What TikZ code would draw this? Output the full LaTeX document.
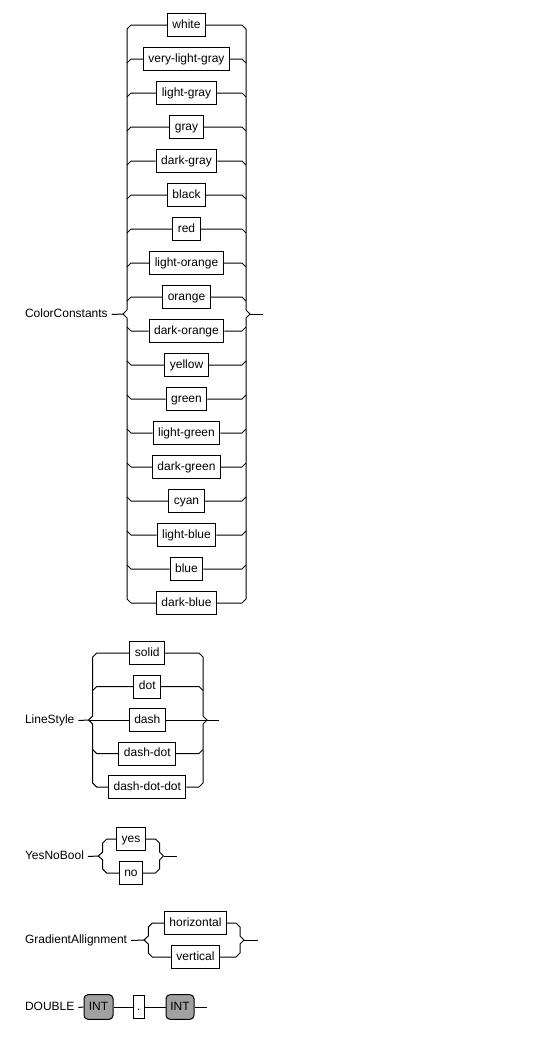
\documentclass[tikz,border=0pt]{standalone}
\usepackage{fontspec}
\setmainfont{Liberation Sans}
\begin{document}
\begin{tikzpicture}[x=0.75pt,y=-0.75pt,line width=0.75pt,line join=miter,
  txt/.style={font=\fontsize{9}{11}\selectfont, text height=6.6pt, text depth=1.9pt},
  term/.style={txt, draw, fill=white, inner xsep=3.75pt, inner ysep=0pt, minimum height=17.25pt},
  ruleref/.style={term, rounded corners=3pt, fill=black!37, minimum height=18.5pt},
  rulename/.style={txt, inner sep=0pt, outer xsep=3pt, anchor=west}]
\useasboundingbox (0,0) rectangle (560,1039);

% ---------------- ColorConstants ----------------
\node[rulename] (cc) at (21,314.5) {ColorConstants};
\coordinate (ccin) at (123,314);
\coordinate (ccout) at (250,314);
\coordinate (ccend) at (263,314);
\draw (cc.east) -- (ccin);
\draw (ccout) -- (ccend);
\foreach \name [count=\i from 0] in {white,very-light-gray,light-gray,gray,dark-gray,black,red,light-orange,orange,dark-orange,yellow,green,light-green,dark-green,cyan,light-blue,blue,dark-blue} {
  \pgfmathsetmacro{\yy}{25+34*\i}
  \node[term] (cc\i) at (186.5,\yy) {\name};
}
% outer branches carry the rails
\draw (cc0.west) -- (131,25) -- (127,29) -- (127,310) -- (ccin) -- (127,318) -- (127,599) -- (131,603) -- (cc17.west);
\draw (cc0.east) -- (242,25) -- (246,29) -- (246,310) -- (ccout) -- (246,318) -- (246,599) -- (242,603) -- (cc17.east);
% inner branches leave the rails
\foreach \i in {1,...,8} {
  \pgfmathsetmacro{\yy}{25+34*\i}
  \coordinate (ccl\i) at (127,\yy+4);
  \coordinate (ccr\i) at (246,\yy+4);
  \draw (ccl\i) -- (131,\yy) -- (cc\i.west);
  \draw (cc\i.east) -- (242,\yy) -- (ccr\i);
}
\foreach \i in {9,...,16} {
  \pgfmathsetmacro{\yy}{25+34*\i}
  \coordinate (ccl\i) at (127,\yy-4);
  \coordinate (ccr\i) at (246,\yy-4);
  \draw (ccl\i) -- (131,\yy) -- (cc\i.west);
  \draw (cc\i.east) -- (242,\yy) -- (ccr\i);
}

% ---------------- LineStyle ----------------
\node[rulename] (ls) at (21,720.5) {LineStyle};
\coordinate (lsin) at (88.5,720);
\coordinate (lsout) at (207,720);
\coordinate (lsend) at (219,720);
\draw (ls.east) -- (lsin);
\draw (lsout) -- (lsend);
\node[term] (ls0) at (147.3,653) {solid};
\node[term] (ls1) at (147.3,686.5) {dot};
\node[term] (ls2) at (147.3,720) {dash};
\node[term] (ls3) at (147.3,753.5) {dash-dot};
\node[term] (ls4) at (147.3,787) {dash-dot-dot};
\draw (ls0.west) -- (96.7,653) -- (92.7,657) -- (92.7,716) -- (lsin) -- (92.7,724) -- (92.7,783) -- (96.7,787) -- (ls4.west);
\draw (ls0.east) -- (199,653) -- (203,657) -- (203,716) -- (lsout) -- (203,724) -- (203,783) -- (199,787) -- (ls4.east);
\coordinate (lsl1) at (92.7,690.5);
\coordinate (lsr1) at (203,690.5);
\coordinate (lsl3) at (92.7,749.5);
\coordinate (lsr3) at (203,749.5);
\draw (lsl1) -- (96.7,686.5) -- (ls1.west);
\draw (ls1.east) -- (199,686.5) -- (lsr1);
\draw (lsl3) -- (96.7,753.5) -- (ls3.west);
\draw (ls3.east) -- (199,753.5) -- (lsr3);
\draw (lsin) -- (ls2.west);
\draw (ls2.east) -- (lsout);

% ---------------- YesNoBool ----------------
\node[rulename] (yn) at (21,856.5) {YesNoBool};
\coordinate (ynin) at (98.3,856);
\coordinate (ynout) at (163.5,856);
\coordinate (ynend) at (176.7,856);
\draw (yn.east) -- (ynin);
\draw (ynout) -- (ynend);
\node[term] (yn0) at (131,839) {yes};
\node[term] (yn1) at (131,873) {no};
\draw (yn0.west) -- (106.7,839) -- (102.7,843) -- (102.7,852) -- (ynin) -- (102.7,860) -- (102.7,869) -- (106.7,873) -- (yn1.west);
\draw (yn0.east) -- (155.5,839) -- (159.5,843) -- (159.5,852) -- (ynout) -- (159.5,860) -- (159.5,869) -- (155.5,873) -- (yn1.east);

% ---------------- GradientAllignment ----------------
\node[rulename] (ga) at (21,940.5) {GradientAllignment};
\coordinate (gain) at (144,940);
\coordinate (gaout) at (244,940);
\coordinate (gaend) at (258,940);
\draw (ga.east) -- (gain);
\draw (gaout) -- (gaend);
\node[term] (ga0) at (195.5,923) {horizontal};
\node[term] (ga1) at (195.5,957) {vertical};
\draw (ga0.west) -- (152.3,923) -- (148.3,927) -- (148.3,936) -- (gain) -- (148.3,944) -- (148.3,953) -- (152.3,957) -- (ga1.west);
\draw (ga0.east) -- (236,923) -- (240,927) -- (240,936) -- (gaout) -- (240,944) -- (240,953) -- (236,957) -- (ga1.east);

% ---------------- DOUBLE ----------------
\node[rulename] (db) at (21,1007.5) {DOUBLE};
\node[ruleref, minimum width=21.75pt, inner xsep=2pt] (int1) at (98.5,1007) {INT};
\node[term, minimum width=8pt, inner xsep=1pt] (dot) at (138.7,1007) {.};
\node[ruleref, minimum width=21pt, inner xsep=2pt] (int2) at (180,1007) {INT};
\coordinate (dbend) at (206.7,1007);
\draw (db.east) -- (int1.west);
\draw (int1.east) -- (dot.west);
\draw (dot.east) -- (int2.west);
\draw (int2.east) -- (dbend);
\end{tikzpicture}
\end{document}
